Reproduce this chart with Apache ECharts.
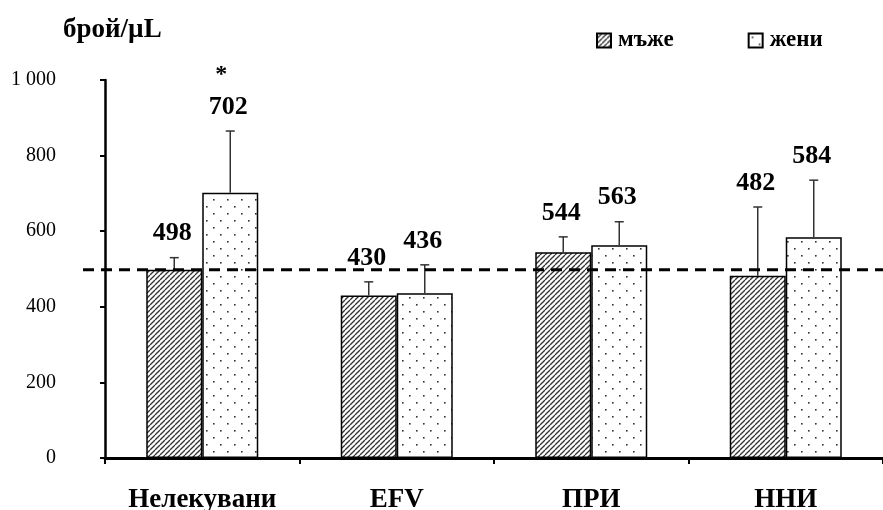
<!DOCTYPE html>
<html>
<head>
<meta charset="utf-8">
<script src="https://cdn.jsdelivr.net/npm/echarts@6/dist/echarts.min.js"></script>
<style>
  html, body { margin: 0; padding: 0; background: #fff; }
  #chart { width: 883px; height: 510px; }
</style>
</head>
<body>
<div id="chart"></div>
<script>
// Groups on the x axis
const categories = ['Нелекувани', 'EFV', 'ПРИ', 'ННИ'];
// Mean counts (брой/µL)
const maleValues = [498, 430, 544, 482];
const femaleValues = [702, 436, 563, 584];
// Standard deviations (drawn upward only)
const maleSD = [32, 36, 41, 182];
const femaleSD = [163, 75, 62, 151];
// Significance marks above female bars
const femaleSig = ['*', '', '', ''];
// Reference level (dashed line)
const referenceLevel = 498;
// Y axis ticks
const yTicks = [0, 200, 400, 600, 800, 1000];

const FONT = '"Liberation Serif", "Times New Roman", serif';
const BAR_W = 56;

function hatchPattern() {
  const c = document.createElement('canvas');
  const s = 5;
  c.width = s; c.height = s;
  const g = c.getContext('2d');
  g.fillStyle = '#fff';
  g.fillRect(0, 0, s, s);
  g.strokeStyle = '#333';
  g.lineWidth = 1.3;
  for (let k = -1; k <= 1; k++) {
    g.beginPath();
    g.moveTo(k * s, s);
    g.lineTo(k * s + s, 0);
    g.stroke();
  }
  return c;
}

function dotPattern() {
  const c = document.createElement('canvas');
  c.width = 14; c.height = 14;
  const g = c.getContext('2d');
  g.fillStyle = '#fff';
  g.fillRect(0, 0, 14, 14);
  g.fillStyle = '#333';
  g.fillRect(3, 3, 1.6, 1.6);
  g.fillRect(10, 10, 1.6, 1.6);
  return c;
}

const maleFill = { image: hatchPattern(), repeat: 'repeat' };
const femaleFill = { image: dotPattern(), repeat: 'repeat' };

const errorData = [];
categories.forEach((c, i) => {
  errorData.push([i, maleValues[i], maleSD[i], -1, '']);
  errorData.push([i, femaleValues[i], femaleSD[i], 1, femaleSig[i]]);
});

function renderError(params, api) {
  const idx = api.value(0);
  const mean = api.value(1);
  const sd = api.value(2);
  const side = api.value(3);
  const sig = errorData[params.dataIndex][4];
  const base = api.coord([idx, mean]);
  const top = api.coord([idx, mean + sd]);
  const x = base[0] + side * BAR_W / 2;
  const cap = 4.5;
  const children = [
    { type: 'line', shape: { x1: x, y1: base[1], x2: x, y2: top[1] },
      style: { stroke: '#333', lineWidth: 1.5 } },
    { type: 'line', shape: { x1: x - cap, y1: top[1], x2: x + cap, y2: top[1] },
      style: { stroke: '#333', lineWidth: 1.5 } },
    { type: 'text', style: { text: String(mean), x: x - 2, y: top[1] - 24,
      textAlign: 'center', textVerticalAlign: 'middle',
      font: 'bold 26px ' + FONT, fill: '#000' } }
  ];
  if (sig) {
    children.push({ type: 'text', style: { text: sig, x: x - 9, y: top[1] - 56,
      textAlign: 'center', textVerticalAlign: 'middle',
      font: 'bold 24px ' + FONT, fill: '#000' } });
  }
  return { type: 'group', children };
}

const chart = echarts.init(document.getElementById('chart'), null, { renderer: 'canvas' });

chart.setOption({
  animation: false,
  backgroundColor: '#fff',
  grid: { left: 105, right: 0, top: 80, bottom: 52, containLabel: false, outerBoundsMode: 'none' },
  title: {
    text: 'брой/µL', left: 58, top: 12,
    textStyle: { fontFamily: FONT, fontWeight: 'bold', fontSize: 27, color: '#000' }
  },
  legend: {
    left: 591, top: 24,
    itemWidth: 14, itemHeight: 14, itemGap: 74, icon: 'rect',
    textStyle: { fontFamily: FONT, fontWeight: 'bold', fontSize: 23, color: '#000', padding: [0, 0, 0, 2] },
    data: ['мъже', 'жени']
  },
  xAxis: {
    type: 'category',
    data: categories,
    axisLine: { lineStyle: { color: '#000', width: 3 } },
    axisTick: { show: true, length: 6, lineStyle: { color: '#000', width: 2 } },
    axisLabel: { margin: 29, fontFamily: FONT, fontWeight: 'bold', fontSize: 27, color: '#000' }
  },
  yAxis: {
    type: 'value',
    min: yTicks[0], max: yTicks[yTicks.length - 1], interval: 200,
    splitLine: { show: false },
    axisLine: { show: true, lineStyle: { color: '#000', width: 2.5 } },
    axisTick: { show: true, length: 5, lineStyle: { color: '#000', width: 2 } },
    axisLabel: {
      margin: 49, fontFamily: FONT, fontSize: 20, color: '#000',
      formatter: v => String(v).replace(/\B(?=(\d{3})+(?!\d))/g, ' ')
    }
  },
  series: [
    {
      name: 'мъже', type: 'bar', data: maleValues, barWidth: BAR_W, barGap: '0%',
      itemStyle: { color: maleFill, borderColor: '#000', borderWidth: 1.5 }
    },
    {
      name: 'жени', type: 'bar', data: femaleValues, barWidth: BAR_W, barGap: '0%',
      itemStyle: { color: femaleFill, borderColor: '#000', borderWidth: 1.5 }
    },
    {
      type: 'custom', data: errorData, renderItem: renderError, clip: false, z: 5,
      encode: { x: 0, y: 1 }
    }
  ]
});

// Dashed reference level across the plot
const refY = chart.convertToPixel({ yAxisIndex: 0 }, referenceLevel);
chart.setOption({
  graphic: [{
    type: 'line', z: 100,
    shape: { x1: 83, y1: refY, x2: 883, y2: refY },
    style: { stroke: '#000', lineWidth: 3, lineDash: [11, 7] }
  }]
});
</script>
</body>
</html>
